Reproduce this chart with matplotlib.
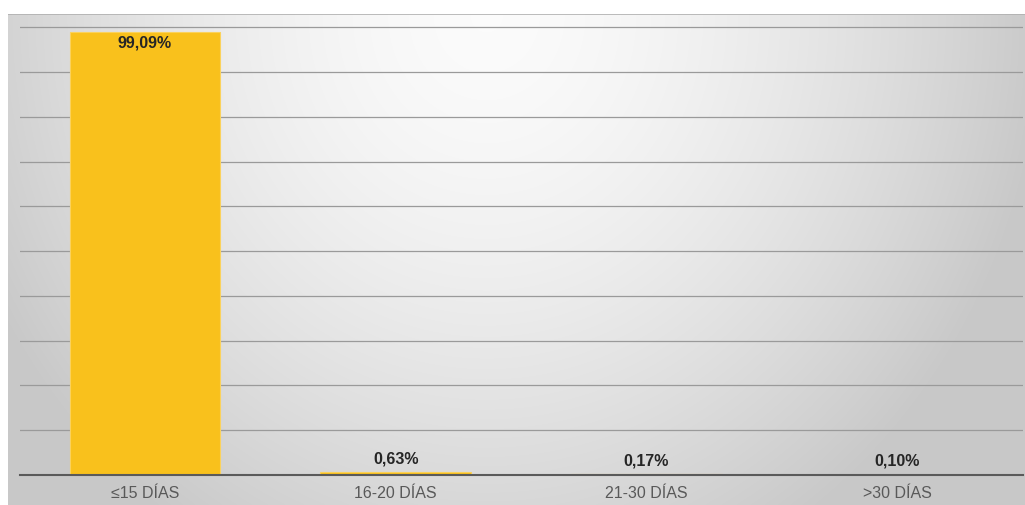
import numpy as np
import matplotlib
matplotlib.use("Agg")
import matplotlib.pyplot as plt
from matplotlib import font_manager

categories = ["≤15 DÍAS", "16-20 DÍAS", "21-30 DÍAS", ">30 DÍAS"]
values = [99.09, 0.63, 0.17, 0.10]
labels = ["99,09%", "0,63%", "0,17%", "0,10%"]

names = {f.name for f in font_manager.fontManager.ttflist}
narrow = "Liberation Sans Narrow" if "Liberation Sans Narrow" in names else "Liberation Sans"
fam = [narrow, "DejaVu Sans"]

W, H = 1025, 505
fig = plt.figure(figsize=(W / 100, H / 100), dpi=100)
fig.patch.set_facecolor("white")

# background panel with radial gradient
bg = fig.add_axes([8 / W, 0, 1 - 8 / W, 1 - 14 / H])
bg.set_axis_off()
ny, nx = 300, 600
yy, xx = np.mgrid[0:ny, 0:nx]
cx, cy = nx * 0.47, ny * 0.0
d = np.sqrt(((xx - cx) / (nx * 0.55)) ** 2 + ((yy - cy) / (ny * 1.25)) ** 2)
d = np.clip(d, 0, 1)
lum = 0.985 - 0.20 * d ** 1.6
img = np.dstack([lum, lum, lum])
bg.imshow(img, aspect="auto", extent=[0, 1, 0, 1], origin="upper", interpolation="bilinear")
bg.set_xlim(0, 1); bg.set_ylim(0, 1)
bg.plot([0, 1], [0.999, 0.999], color="#b0b0b0", lw=1.2)

x0, x1 = 19.5, 1022.5
y_axis, y_top = 475, 14
ax = fig.add_axes([x0 / W, 1 - y_axis / H, (x1 - x0) / W, (y_axis - y_top) / H])
ax.patch.set_alpha(0)
x = np.arange(len(categories))
ax.bar(x, values, width=0.6, color="#F9C11C", edgecolor="#FBD25C", linewidth=0.8, zorder=3)
ax.set_xlim(-0.5, len(categories) - 0.5)
ax.set_ylim(0, 103)
ax.set_yticks(np.arange(10, 101, 10))
ax.yaxis.grid(True, color="#9a9a9a", lw=0.9)
ax.set_axisbelow(True)
ax.tick_params(axis="y", left=False, labelleft=False)
ax.tick_params(axis="x", length=0, pad=8)
ax.set_xticks(x)
ax.set_xticklabels(categories, family=fam, fontsize=11.5, color="#595959")
for s in ["top", "right", "left"]:
    ax.spines[s].set_visible(False)
ax.spines["bottom"].set_color("#5a5a5a")
ax.spines["bottom"].set_linewidth(1.5)
ax.spines["bottom"].set_zorder(4)

for i, (v, lab) in enumerate(zip(values, labels)):
    if v > 50:
        ax.annotate(lab, (i, v), xytext=(0, -3), textcoords="offset points",
                    ha="center", va="top", fontsize=11.5, fontweight="bold",
                    family=fam, color="#262626", zorder=5)
    else:
        ax.annotate(lab, (i, v), xytext=(0, 4), textcoords="offset points",
                    ha="center", va="bottom", fontsize=11.5, fontweight="bold",
                    family=fam, color="#262626", zorder=5)

fig.savefig("out.png", dpi=100, facecolor="white")
